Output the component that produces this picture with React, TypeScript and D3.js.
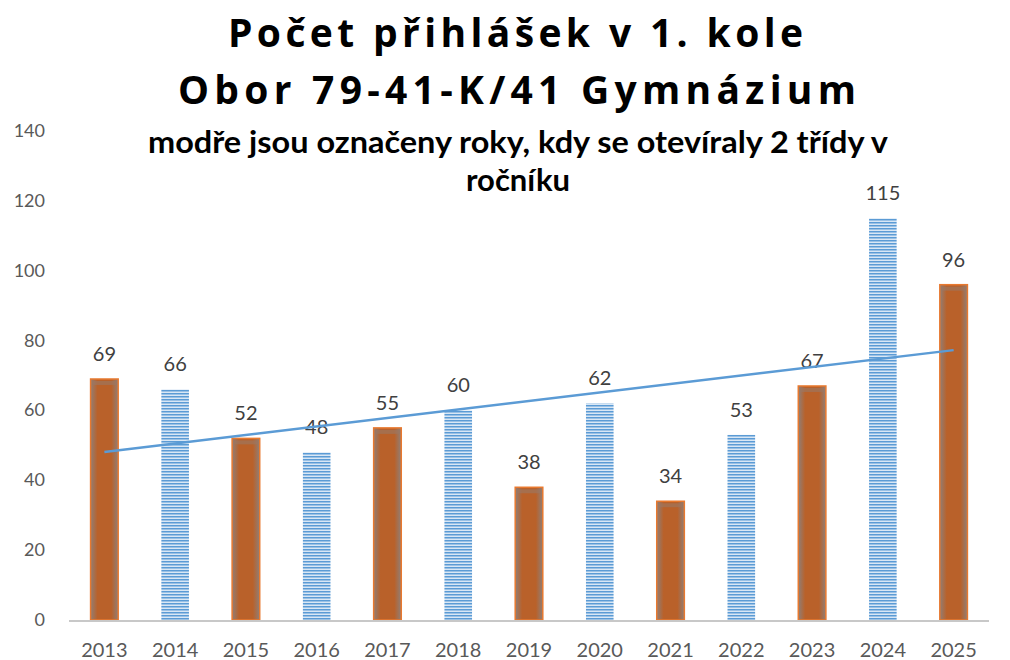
import React from 'react'
import * as d3 from 'd3'

const years = ['2013', '2014', '2015', '2016', '2017', '2018', '2019', '2020', '2021', '2022', '2023', '2024', '2025']
const applications = [69, 66, 52, 48, 55, 60, 38, 62, 34, 53, 67, 115, 96]
// years where two classes were opened (drawn in blue)
const twoClassYears = ['2014', '2016', '2018', '2020', '2022', '2024']
const yTicks = [0, 20, 40, 60, 80, 100, 120, 140]

const titleLines = ['Počet přihlášek v 1. kole', 'Obor 79-41-K/41 Gymnázium']
const subtitleLines = ['modře jsou označeny roky, kdy se otevíraly 2 třídy v', 'ročníku']

const width = 1010
const height = 660
const font = 'Lato, "Open Sans", sans-serif'
const titleFont = '"Open Sans", Lato, sans-serif'

export default function App() {
  const x = d3.scaleBand().domain(years).range([69, 989]).paddingInner(0.61).paddingOuter(0.305)
  const y = d3.scaleLinear().domain([0, 140]).range([620, 131])

  // linear trendline (least squares) over the bars
  const n = applications.length
  const xs = d3.range(n)
  const mx = d3.mean(xs) as number
  const my = d3.mean(applications) as number
  const sxy = d3.sum(xs, (i) => (i - mx) * (applications[i] - my))
  const sxx = d3.sum(xs, (i) => (i - mx) * (i - mx))
  const slope = sxy / sxx
  const icpt = my - slope * mx
  const trend = [0, n - 1].map((i) => ({ year: years[i], v: icpt + slope * i }))
  const line = d3
    .line<{ year: string; v: number }>()
    .x((d) => (x(d.year) as number) + x.bandwidth() / 2)
    .y((d) => y(d.v))

  return (
    <div style={{ position: 'fixed', left: 0, top: 0 }}>
      <svg width={width} height={height} style={{ display: 'block' }}>
        <defs>
          <pattern id="stripes" width="4" height="3" patternUnits="userSpaceOnUse">
            <rect width="4" height="3" fill="#d9e7f5" />
            <rect width="4" height="1.5" fill="#5b9bd5" />
          </pattern>
          <linearGradient id="glow" x1="0" x2="1">
            <stop offset="0" stopColor="#8f7f78" />
            <stop offset="0.25" stopColor="#b9612a" />
            <stop offset="0.75" stopColor="#b9612a" />
            <stop offset="1" stopColor="#8f7f78" />
          </linearGradient>
        </defs>
        <rect width={width} height={height} fill="#fff" />

        {titleLines.map((t, i) => (
          <text key={t} x={i === 0 ? 515.5 : 517} y={47 + i * 57} textAnchor="middle" fontFamily={titleFont} fontWeight="bold"
            fontSize={39} textLength={i === 0 ? 575 : 678} lengthAdjust="spacing" fill="#000">{t}</text>
        ))}
        <text x={518} y={153} textAnchor="middle" fontFamily={font} fontWeight="bold" fontSize={31}
          textLength={740} lengthAdjust="spacingAndGlyphs" fill="#000">{subtitleLines[0]}</text>
        <text x={518} y={191} textAnchor="middle" fontFamily={font} fontWeight="bold" fontSize={31} fill="#000">{subtitleLines[1]}</text>

        {yTicks.map((t) => (
          <text key={t} x={45} y={y(t) + 6} textAnchor="end" fontFamily={font} fontSize={18} fill="#595959">{t}</text>
        ))}

        {years.map((yr, i) => {
          const blue = twoClassYears.includes(yr)
          const bx = x(yr) as number
          const v = applications[i]
          return (
            <g key={yr}>
              {blue ? (
                <rect x={bx} y={y(v)} width={x.bandwidth()} height={y(0) - y(v)} fill="url(#stripes)" />
              ) : (
                <>
                  <rect x={bx} y={y(v)} width={x.bandwidth()} height={y(0) - y(v)} fill="url(#glow)" stroke="#e8792f" strokeWidth={1.5} />
                  <rect x={bx + 2} y={y(v) + 2} width={x.bandwidth() - 4} height={4} fill="#9a7866" opacity={0.6} />
                </>
              )}
              <text x={bx + x.bandwidth() / 2} y={y(v) - 18} textAnchor="middle" fontFamily={font} fontSize={20} fill="#404040">{v}</text>
              <text x={bx + x.bandwidth() / 2} y={657} textAnchor="middle" fontFamily={font} fontSize={20} fill="#595959">{yr}</text>
            </g>
          )
        })}

        <line x1={69} x2={989} y1={y(0) + 1} y2={y(0) + 1} stroke="#c8c8c8" strokeWidth={2} />
        <path d={line(trend) ?? ''} fill="none" stroke="#5b9bd5" strokeWidth={2.5} />
      </svg>
    </div>
  )
}
